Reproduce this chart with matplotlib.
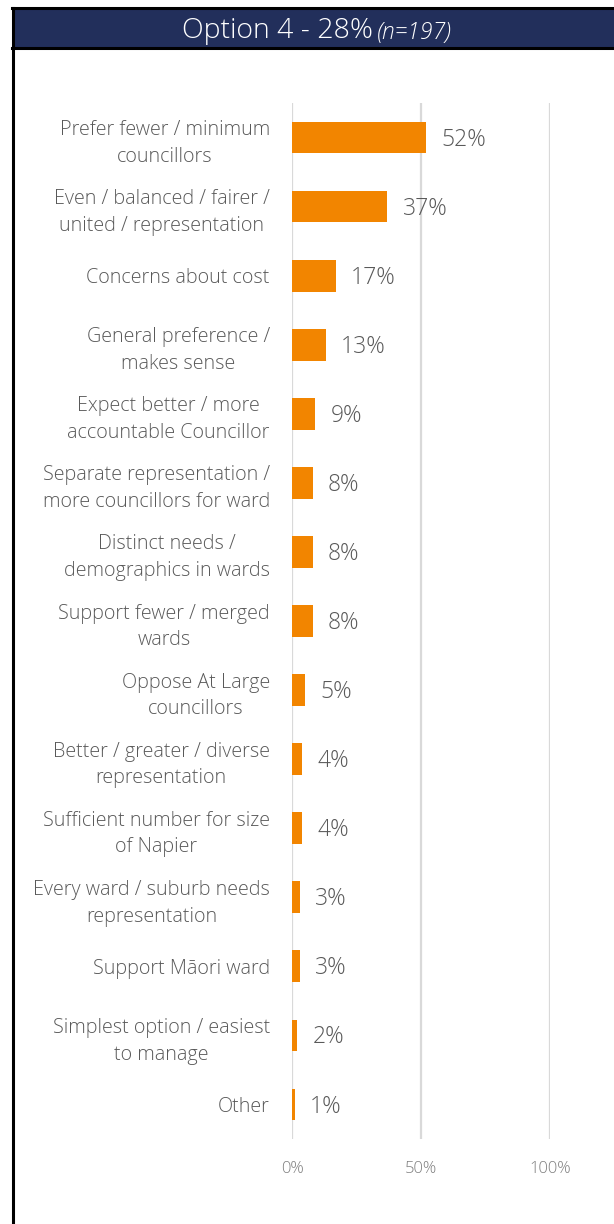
import matplotlib
matplotlib.use("Agg")
import matplotlib.pyplot as plt
from matplotlib.patches import Rectangle
from matplotlib.lines import Line2D

# reasons given for Option 4, share of respondents (%)
CATEGORIES = [
    "Prefer fewer / minimum\ncouncillors",
    "Even / balanced / fairer /\nunited / representation",
    "Concerns about cost",
    "General preference /\nmakes sense",
    "Expect better / more\naccountable Councillor",
    "Separate representation /\nmore councillors for ward",
    "Distinct needs /\ndemographics in wards",
    "Support fewer / merged\nwards",
    "Oppose At Large\ncouncillors",
    "Better / greater / diverse\nrepresentation",
    "Sufficient number for size\nof Napier",
    "Every ward / suburb needs\nrepresentation",
    "Support Māori ward",
    "Simplest option / easiest\nto manage",
    "Other",
]
VALUES = [52, 37, 17, 13, 9, 8, 8, 8, 5, 4, 4, 3, 3, 2, 1]
XTICKS = [0, 50, 100]

TITLE = "Option 4 - 28%"
SUBTITLE = "(n=197)"

NAVY = "#222f5b"
ORANGE = "#f28500"
TEXT = "#595959"
TICK = "#7f7f7f"
GRID = "#d9d9d9"

plt.rcParams["font.family"] = ["Open Sans", "DejaVu Sans"]

W, H = 614, 1224
fig = plt.figure(figsize=(W / 100, H / 100), dpi=100)


def fx(px):
    return px / W


def fy(py):
    return 1 - py / H


# header bar with black frame on top, left and beneath
fig.patches.append(Rectangle((fx(13), fy(47)), 1 - fx(13), fy(8) - fy(47),
                             transform=fig.transFigure, facecolor=NAVY, edgecolor="none"))
for line in [
    Line2D([fx(12), 1], [fy(8), fy(8)]),
    Line2D([fx(12), 1], [fy(47.5), fy(47.5)]),
    Line2D([fx(13), fx(13)], [0, fy(8)]),
]:
    line.set_transform(fig.transFigure)
    line.set_color("black")
    line.set_linewidth(2.2)
    fig.lines.append(line)

fig.text(fx(373), fy(31), TITLE, color="white", fontsize=20.5, fontweight="light",
         ha="right", va="center")
fig.text(fx(377), fy(33), SUBTITLE, color="white", fontsize=16.5, fontstyle="italic",
         fontweight="light", ha="left", va="center")

ax = fig.add_axes([fx(292), fy(1139), fx(550) - fx(292), fy(103) - fy(1139)])
y = range(len(CATEGORIES))
ax.barh(y, VALUES, height=0.46, color=ORANGE, zorder=3)
ax.set_xlim(0, 100)
ax.set_ylim(len(CATEGORIES) - 0.5, -0.5)

for yi, v in zip(y, VALUES):
    ax.annotate(f"{v}%", (v, yi), xytext=(11, -1.5), textcoords="offset points",
                ha="left", va="center", fontsize=16.5, color=TEXT, fontweight="light")

ax.set_yticks(list(y))
ax.set_yticklabels(CATEGORIES, fontsize=14.2, color=TEXT, fontweight="light",
                   multialignment="center", linespacing=1.45)
ax.tick_params(axis="y", length=0, pad=16)

ax.set_xticks(XTICKS)
ax.set_xticklabels([f"{t}%" for t in XTICKS], fontsize=12, color=TICK, fontweight="light")
ax.tick_params(axis="x", length=0, pad=16)

ax.grid(axis="x", color=GRID, linewidth=1.6, zorder=0)
ax.set_axisbelow(True)
for s in ax.spines.values():
    s.set_visible(False)

fig.savefig("out.png", dpi=100)
